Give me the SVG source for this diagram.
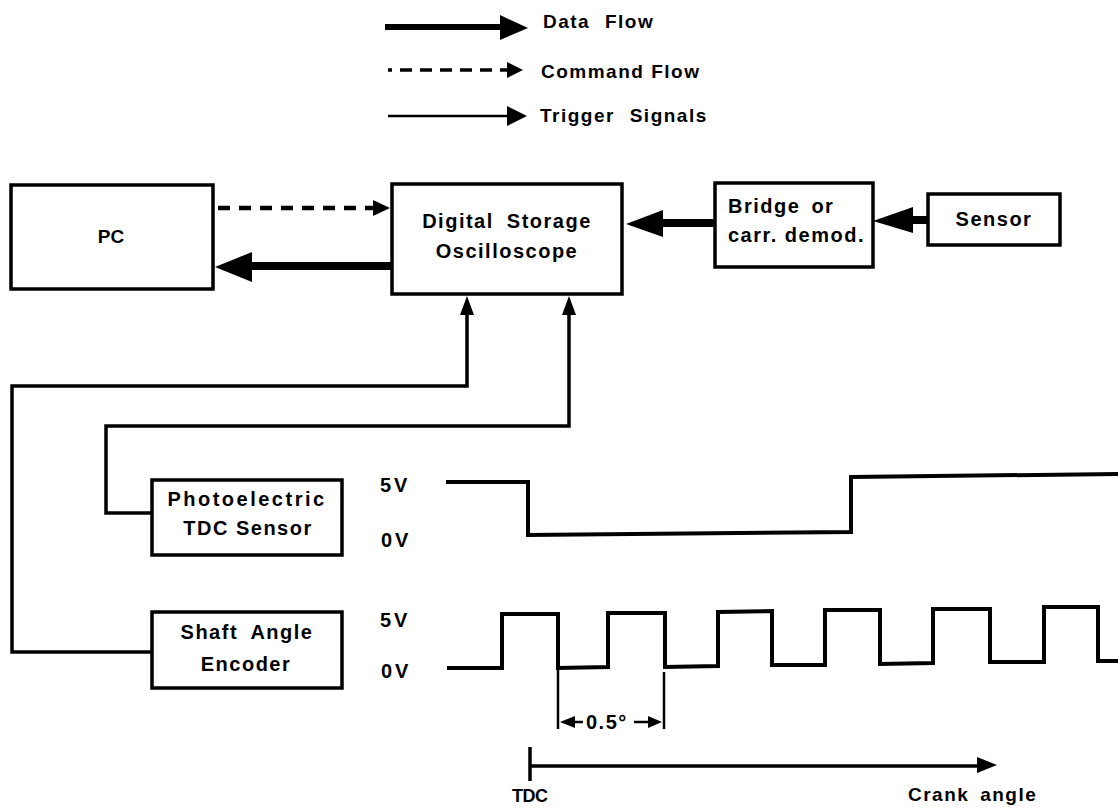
<svg xmlns="http://www.w3.org/2000/svg" width="1118" height="809" viewBox="0 0 1118 809">
<style>
  .box { fill: #fff; stroke: #000; stroke-width: 3.5; }
  .t { font-family: "Liberation Sans", Arial, sans-serif; font-weight: bold; font-size: 20px; fill: #000; letter-spacing: 1.5px; }
  .lg { font-size: 19px; }
  .v { letter-spacing: 3px; }
  .data { stroke: #000; stroke-width: 8; fill: none; }
  .cmd { stroke: #000; stroke-width: 4.5; fill: none; stroke-dasharray: 12 9; }
  .trig { stroke: #000; stroke-width: 3.5; fill: none; }
  .wave { stroke: #000; stroke-width: 4; fill: none; stroke-linejoin: miter; }
  .thin { stroke: #000; stroke-width: 2.5; fill: none; }
  .head { fill: #000; stroke: none; }
</style>
<rect width="1118" height="809" fill="#fff"/>

<g id="legend">
  <line x1="385" y1="27" x2="502" y2="27" style="stroke:#000;stroke-width:6"/>
  <polygon class="head" points="500,15 528,28 500,40"/>
  <text class="t lg" x="543" y="28" style="word-spacing:8px">Data Flow</text>
  <line x1="388" y1="70" x2="392" y2="70" style="stroke:#000;stroke-width:3.5"/>
  <line x1="400" y1="70" x2="508" y2="70" style="stroke:#000;stroke-width:3.5;stroke-dasharray:12 8"/>
  <polygon class="head" points="507,62 523,70 507,78"/>
  <text class="t lg" x="541" y="78">Command Flow</text>
  <line x1="388" y1="116" x2="510" y2="116" style="stroke:#000;stroke-width:2.5"/>
  <polygon class="head" points="507,106 527,116 507,126"/>
  <text class="t lg" x="540" y="122" style="word-spacing:8px">Trigger Signals</text>
</g>

<g id="pc">
  <rect class="box" x="11" y="185" width="202" height="104"/>
  <text class="t" x="111" y="243" text-anchor="middle" style="letter-spacing:0;font-size:19px">PC</text>
</g>

<g id="dso">
  <rect class="box" x="392" y="184" width="230" height="110"/>
  <text class="t" x="507" y="228" text-anchor="middle" style="word-spacing:6px">Digital Storage</text>
  <text class="t" x="507" y="258" text-anchor="middle">Oscilloscope</text>
</g>

<g id="bridge">
  <rect class="box" x="715" y="183" width="158" height="84"/>
  <text class="t" x="728" y="213" style="word-spacing:4px">Bridge or</text>
  <text class="t" x="728" y="242">carr. demod.</text>
</g>

<g id="sensor">
  <rect class="box" x="928" y="194" width="132" height="51"/>
  <text class="t" x="994" y="226" text-anchor="middle">Sensor</text>
</g>

<g id="photo">
  <rect class="box" x="152" y="480" width="190" height="75"/>
  <text class="t" x="247" y="506" text-anchor="middle" style="letter-spacing:2.5px">Photoelectric</text>
  <text class="t" x="248" y="535" text-anchor="middle">TDC Sensor</text>
</g>

<g id="encoder">
  <rect class="box" x="152" y="612" width="190" height="76"/>
  <text class="t" x="247" y="639" text-anchor="middle" style="word-spacing:6px">Shaft Angle</text>
  <text class="t" x="246" y="671" text-anchor="middle">Encoder</text>
</g>

<g id="connectors">
  <!-- PC to DSO command flow -->
  <line class="cmd" x1="218" y1="208" x2="374" y2="208"/>
  <polygon class="head" points="373,200 390,208 373,216"/>
  <!-- DSO to PC data flow -->
  <line class="data" x1="392" y1="266" x2="250" y2="266"/>
  <polygon class="head" points="252,252 215,267 252,282"/>
  <!-- Bridge to DSO -->
  <line class="data" x1="715" y1="223" x2="660" y2="223"/>
  <polygon class="head" points="663,210 626,224 663,237"/>
  <!-- Sensor to Bridge -->
  <line class="data" x1="928" y1="220" x2="910" y2="220"/>
  <polygon class="head" points="913,207 873,221 913,233"/>
  <!-- Encoder trigger to DSO -->
  <polyline class="trig" points="152,652 12,652 12,386 467,386 467,312"/>
  <polygon class="head" points="460,315 467,296 474,315"/>
  <!-- Photoelectric trigger to DSO -->
  <polyline class="trig" points="152,513 106,513 106,426 569,426 569,312"/>
  <polygon class="head" points="562,315 569,296 576,315"/>
</g>

<g id="signals">
  <text class="t v" x="380" y="492">5V</text>
  <text class="t v" x="381" y="547">0V</text>
  <text class="t v" x="380" y="627">5V</text>
  <text class="t v" x="381" y="678">0V</text>
  <path class="wave" d="M446,482 L528,482 L528,535 L851,532 L851,477 L1118,474"/>
  <path class="wave" d="M447,668 L502,668 L502,614 L558,614 L558,668 L608,667 L608,613 L665,613 L665,667 L718,666 L718,612 L772,611 L772,665 L825,665 L825,610 L880,610 L880,664 L933,663 L933,609 L990,609 L990,662 L1044,662 L1044,607 L1098,607 L1098,661 L1118,661"/>
  <!-- 0.5 degree bracket -->
  <line class="thin" x1="558" y1="668" x2="558" y2="729"/>
  <line class="thin" x1="664" y1="672" x2="664" y2="729"/>
  <line class="thin" x1="572" y1="722" x2="583" y2="722"/>
  <polygon class="head" points="560,722 575,716 575,728"/>
  <line class="thin" x1="634" y1="722" x2="652" y2="722"/>
  <polygon class="head" points="662,722 648,716 648,728"/>
  <text class="t" x="586" y="729" style="font-size:20px;letter-spacing:1.5px">0.5°</text>
  <!-- crank angle axis -->
  <line class="trig" x1="530" y1="747" x2="530" y2="781"/>
  <line class="trig" x1="530" y1="766" x2="980" y2="766"/>
  <polygon class="head" points="977,757 997,765 977,773"/>
  <text class="t" x="512" y="802" style="font-size:18px;letter-spacing:-0.5px">TDC</text>
  <text class="t" x="908" y="801" style="font-size:19px;word-spacing:4px">Crank angle</text>
</g>
</svg>
